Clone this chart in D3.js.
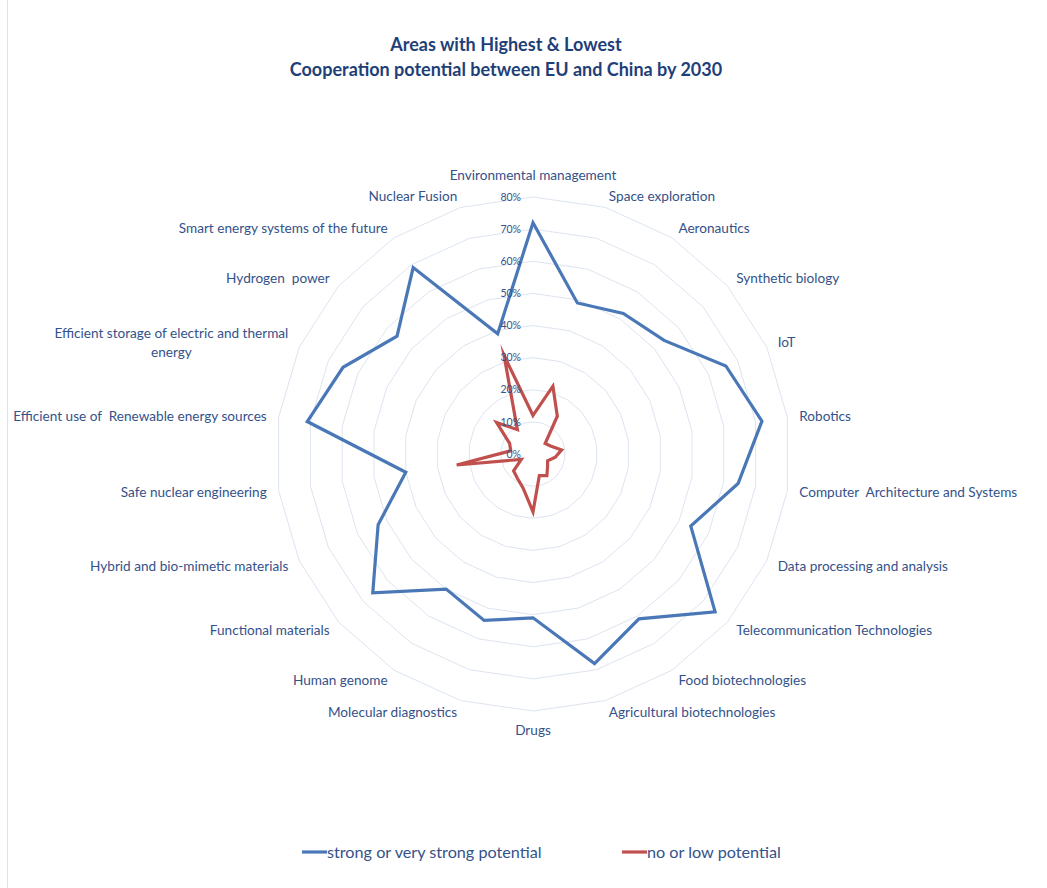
<!DOCTYPE html>
<html>
<head>
<meta charset="utf-8">
<script src="https://cdn.jsdelivr.net/npm/d3@7"></script>
<style>
  html, body { margin: 0; padding: 0; background: #fff; }
  svg { display: block; }
  text { white-space: pre; }
</style>
</head>
<body>
<svg id="chart" width="1047" height="888"></svg>
<script>
const categories = [
  "Environmental management", "Space exploration", "Aeronautics", "Synthetic biology",
  "IoT", "Robotics", "Computer  Architecture and Systems", "Data processing and analysis",
  "Telecommunication Technologies", "Food biotechnologies", "Agricultural biotechnologies",
  "Drugs", "Molecular diagnostics", "Human genome", "Functional materials",
  "Hybrid and bio-mimetic materials", "Safe nuclear engineering",
  "Efficient use of  Renewable energy sources",
  "Efficient storage of electric and thermal|energy", "Hydrogen  power",
  "Smart energy systems of the future", "Nuclear Fusion"
];
const strongValues = [72, 49, 52, 54, 66, 72, 64.5, 54, 75, 61, 68, 51, 54, 50, 66, 53, 40, 71, 65, 56, 69, 39];
const lowValues    = [12, 22, 14, 5, 6, 9, 7, 5, 6, 8, 7, 18, 11, 9, 8, 4, 24, 7, 8, 15, 9, 32];
const tickValues = [0, 10, 20, 30, 40, 50, 60, 70, 80];
const tickLabels = ["0%", "10%", "20%", "30%", "40%", "50%", "60%", "70%", "80%"];
const seriesNames = ["strong or very strong potential", "no or low potential"];
const titleLines = ["Areas with Highest & Lowest", "Cooperation potential between EU and China by 2030"];

const W = 1047, H = 888;
const cx = 533, cy = 454, R = 257, labelR = 269;
const blue = "#4a78b7", red = "#c0504d";
const textColor = "#34528a";
const font = "Lato, 'Open Sans', sans-serif";

const svg = d3.select("#chart");
const n = categories.length;
const angle = d3.scaleLinear().domain([0, n]).range([0, 2 * Math.PI]);
const r = d3.scaleLinear().domain([0, 80]).range([0, R]);

// chart border (left edge visible)
svg.append("line").attr("x1", 7.5).attr("x2", 7.5).attr("y1", 0).attr("y2", H)
  .attr("stroke", "#e2e2e2").attr("stroke-width", 1);

// title
svg.append("g").selectAll("text").data(titleLines).join("text")
  .attr("x", 506).attr("y", (d, i) => 51 + i * 25)
  .attr("text-anchor", "middle")
  .attr("font-family", font).attr("font-weight", "bold").attr("font-size", 18)
  .attr("fill", "#1f3f78").text(d => d);

const g = svg.append("g").attr("transform", `translate(${cx},${cy})`);

// grid rings
const ringLine = d3.lineRadial()
  .angle((d, i) => angle(i)).radius(d => r(d)).curve(d3.curveLinearClosed);
g.append("g").selectAll("path").data(tickValues.filter(t => t > 0)).join("path")
  .attr("d", t => ringLine(d3.range(n).map(() => t)))
  .attr("fill", "none").attr("stroke", "#dde4f1").attr("stroke-width", 1);

// series
const seriesLine = d3.lineRadial()
  .angle((d, i) => angle(i)).radius(d => r(d)).curve(d3.curveLinearClosed);
[[strongValues, blue], [lowValues, red]].forEach(([vals, col]) => {
  g.append("path").attr("d", seriesLine(vals))
    .attr("fill", "none").attr("stroke", col).attr("stroke-width", 3.2)
    .attr("stroke-linejoin", "miter").attr("stroke-miterlimit", 10);
});

// tick labels
g.append("g").selectAll("text").data(tickValues).join("text")
  .attr("x", -12).attr("y", t => -r(t)).attr("dy", "0.35em")
  .attr("text-anchor", "end")
  .attr("font-family", font).attr("font-size", 10.5)
  .attr("fill", textColor).text((t, i) => tickLabels[i]);

// category labels
const lab = g.append("g");
categories.forEach((c, i) => {
  const a = angle(i);
  const x = labelR * Math.sin(a), y = -labelR * Math.cos(a);
  const lines = c.split("|");
  const t = lab.append("text")
    .attr("font-family", font).attr("font-size", 13.6).attr("fill", textColor);
  let anchor = "middle";
  if (Math.abs(Math.sin(a)) > 0.01) anchor = Math.sin(a) > 0 ? "start" : "end";
  const lh = 19;
  let y0;
  if (Math.abs(Math.sin(a)) <= 0.01 && Math.cos(a) > 0) y0 = y - 5;       // top
  else if (Math.abs(Math.sin(a)) <= 0.01) y0 = y + 12;                    // bottom
  else y0 = y + 4.8 - (lines.length - 1) * lh / 2;
  lines.forEach((ln, k) => {
    t.append("tspan").attr("x", x).attr("y", y0 + k * lh).text(ln);
  });
  if (lines.length > 1) {
    const widths = [];
    t.selectAll("tspan").each(function () { widths.push(this.getComputedTextLength()); });
    const bw = d3.max(widths);
    const mid = anchor === "end" ? x - bw / 2 : x + bw / 2;
    t.selectAll("tspan").attr("x", mid);
    anchor = "middle";
  }
  t.attr("text-anchor", anchor);
});

// legend
const legend = svg.append("g");
const legendItems = [{ name: seriesNames[0], color: blue, x: 302 }, { name: seriesNames[1], color: red, x: 622 }];
legendItems.forEach(d => {
  legend.append("line").attr("x1", d.x).attr("x2", d.x + 25).attr("y1", 852).attr("y2", 852)
    .attr("stroke", d.color).attr("stroke-width", 3.2);
  legend.append("text").attr("x", d.x + 25).attr("y", 857.5)
    .attr("font-family", font).attr("font-size", 16.2).attr("fill", textColor).text(d.name);
});
</script>
</body>
</html>
